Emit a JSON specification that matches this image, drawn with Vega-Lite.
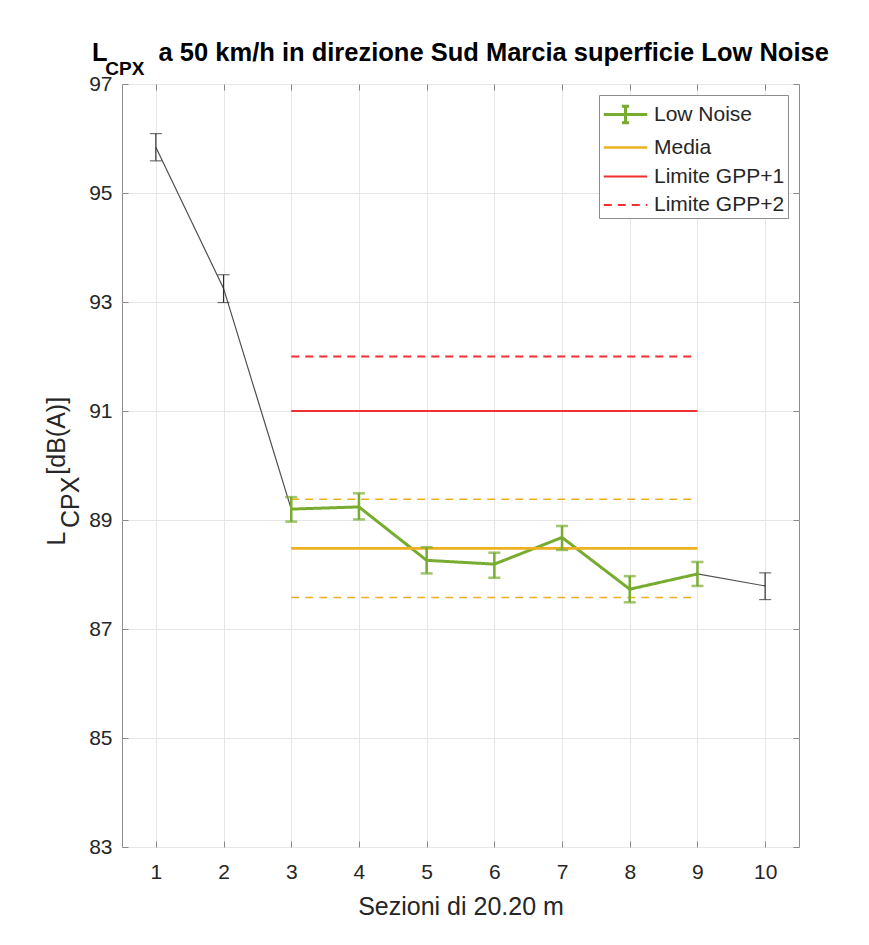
{
  "$schema": "https://vega.github.io/schema/vega-lite/v6.json",
  "autosize": {"type": "none"},
  "padding": {"left": 122, "top": 84, "right": 70, "bottom": 98},
  "width": 677,
  "height": 763,
  "background": "white",
  "config": {
    "font": "Liberation Sans",
    "view": {"stroke": "#8c8c8c", "strokeWidth": 1}
  },
  "title": {
    "text": "L\u2003\u2003a 50 km/h in direzione Sud Marcia superficie Low Noise",
    "subtitle": "\u200b\u2002\u2009CPX",
    "anchor": "start",
    "frame": "group",
    "dx": -30,
    "fontSize": 25.5,
    "fontWeight": "bold",
    "color": "#000000",
    "subtitleFontSize": 19,
    "subtitleFontWeight": "bold",
    "subtitleColor": "#000000",
    "subtitlePadding": -6,
    "offset": -6
  },
  "datasets": {
    "pts": [
      {"sez": 1, "val": 95.84, "lo": 95.59, "hi": 96.09, "grp": "ext"},
      {"sez": 2, "val": 93.25, "lo": 92.99, "hi": 93.50, "grp": "ext"},
      {"sez": 3, "val": 89.20, "lo": 88.97, "hi": 89.42, "grp": "Low Noise"},
      {"sez": 4, "val": 89.24, "lo": 89.01, "hi": 89.49, "grp": "Low Noise"},
      {"sez": 5, "val": 88.26, "lo": 88.02, "hi": 88.50, "grp": "Low Noise"},
      {"sez": 6, "val": 88.19, "lo": 87.94, "hi": 88.40, "grp": "Low Noise"},
      {"sez": 7, "val": 88.68, "lo": 88.45, "hi": 88.89, "grp": "Low Noise"},
      {"sez": 8, "val": 87.73, "lo": 87.49, "hi": 87.97, "grp": "Low Noise"},
      {"sez": 9, "val": 88.01, "lo": 87.79, "hi": 88.23, "grp": "Low Noise"},
      {"sez": 10, "val": 87.79, "lo": 87.54, "hi": 88.03, "grp": "ext"}
    ],
    "lines": [
      {"serie": "Low Noise", "sez": 3, "val": 89.20},
      {"serie": "Low Noise", "sez": 4, "val": 89.24},
      {"serie": "Low Noise", "sez": 5, "val": 88.26},
      {"serie": "Low Noise", "sez": 6, "val": 88.19},
      {"serie": "Low Noise", "sez": 7, "val": 88.68},
      {"serie": "Low Noise", "sez": 8, "val": 87.73},
      {"serie": "Low Noise", "sez": 9, "val": 88.01},
      {"serie": "Media", "sez": 3, "val": 88.48},
      {"serie": "Media", "sez": 9, "val": 88.48},
      {"serie": "Limite GPP+1", "sez": 3, "val": 91.0},
      {"serie": "Limite GPP+1", "sez": 9, "val": 91.0},
      {"serie": "Limite GPP+2", "sez": 3, "val": 92.0},
      {"serie": "Limite GPP+2", "sez": 9, "val": 92.0}
    ],
    "band": [
      {"k": "sup", "sez": 3, "val": 89.38},
      {"k": "sup", "sez": 9, "val": 89.38},
      {"k": "inf", "sez": 3, "val": 87.58},
      {"k": "inf", "sez": 9, "val": 87.58}
    ]
  },
  "resolve": {"axis": {"x": "independent", "y": "independent"}},
  "layer": [
    {
      "data": {"name": "pts"},
      "mark": {"type": "line", "color": "#505050", "strokeWidth": 1.2},
      "encoding": {
        "x": {
          "field": "sez", "type": "quantitative",
          "scale": {"domain": [0.5, 10.5], "nice": false, "zero": false},
          "axis": {
            "orient": "bottom", "values": [1, 2, 3, 4, 5, 6, 7, 8, 9, 10],
            "title": "Sezioni di 20.20 m", "titleFontSize": 25, "titleFontWeight": "normal",
            "titleColor": "#262626", "titlePadding": 12,
            "labelFontSize": 21, "labelColor": "#262626", "labelPadding": 20,
            "grid": true, "gridColor": "#e6e6e6", "gridWidth": 1,
            "domain": false, "tickSize": -6, "tickColor": "#888888"
          }
        },
        "y": {
          "field": "val", "type": "quantitative",
          "scale": {"domain": [83, 97], "nice": false, "zero": false},
          "axis": {
            "orient": "left", "values": [83, 85, 87, 89, 91, 93, 95, 97],
            "title": ["L\u2003\u2003 [dB(A)]", "\u200b\u2002\u2009CPX"],
            "titleFontSize": 25, "titleFontWeight": "normal", "titleColor": "#262626",
            "titleAngle": 270, "titleAlign": "left", "titleBaseline": "alphabetic",
            "titleX": -58, "titleY": 461, "titleLineHeight": 14,
            "labelFontSize": 21, "labelColor": "#262626", "labelPadding": 16,
            "grid": true, "gridColor": "#e6e6e6", "gridWidth": 1,
            "domain": false, "tickSize": -6, "tickColor": "#888888"
          }
        }
      }
    },
    {
      "data": {"name": "band"},
      "mark": {"type": "line", "color": "#EDB120", "strokeWidth": 1.5, "strokeDash": [8, 6]},
      "encoding": {
        "x": {
          "field": "sez", "type": "quantitative",
          "axis": {"orient": "top", "values": [1, 2, 3, 4, 5, 6, 7, 8, 9, 10], "labels": false, "title": null, "grid": false, "domain": false, "tickSize": -6, "tickColor": "#888888"}
        },
        "y": {
          "field": "val", "type": "quantitative",
          "axis": {"orient": "right", "values": [83, 85, 87, 89, 91, 93, 95, 97], "labels": false, "title": null, "grid": false, "domain": false, "tickSize": -6, "tickColor": "#888888"}
        },
        "detail": {"field": "k"}
      }
    },
    {
      "data": {"name": "lines"},
      "mark": {"type": "line"},
      "encoding": {
        "x": {"field": "sez", "type": "quantitative", "axis": null},
        "y": {"field": "val", "type": "quantitative", "axis": null},
        "color": {
          "field": "serie", "type": "nominal",
          "scale": {
            "domain": ["Low Noise", "Media", "Limite GPP+1", "Limite GPP+2"],
            "range": ["#77AC30", "#EDB120", "#F03030", "#F03030"]
          },
          "legend": {
            "title": null,
            "orient": "top-right",
            "offset": 11,
            "padding": 3,
            "strokeColor": "#8c8c8c",
            "fillColor": "white",
            "labelFontSize": 21,
            "labelColor": "#262626",
            "symbolType": "M-1.45,0H1.45",
            "symbolSize": 900,
            "symbolStrokeWidth": 2,
            "symbolOffset": 7,
            "rowPadding": 2,
            "labelOffset": 12,
            "encode": {
              "symbols": {
                "update": {
                  "shape": {"signal": "datum.value === 'Low Noise' ? 'M-1.45,0H1.45M0,-0.55V0.55M-0.24,-0.55H0.24M-0.24,0.55H0.24' : 'M-1.45,0H1.45'"}
                }
              }
            }
          }
        },
        "strokeDash": {
          "field": "serie", "type": "nominal",
          "scale": {
            "domain": ["Low Noise", "Media", "Limite GPP+1", "Limite GPP+2"],
            "range": [[1, 0], [1, 0], [1, 0], [8, 6]]
          },
          "legend": null
        },
        "strokeWidth": {
          "field": "serie", "type": "nominal",
          "scale": {
            "domain": ["Low Noise", "Media", "Limite GPP+1", "Limite GPP+2"],
            "range": [3, 1.8, 2, 1.8]
          },
          "legend": null
        }
      }
    },
    {
      "data": {"name": "pts"},
      "transform": [{"filter": "datum.grp === 'ext'"}],
      "mark": {"type": "errorbar", "ticks": {"size": 12, "thickness": 1.2, "color": "#303030"}, "thickness": 1.2, "color": "#303030"},
      "encoding": {
        "x": {"field": "sez", "type": "quantitative", "axis": null},
        "y": {"field": "lo", "type": "quantitative", "axis": null},
        "y2": {"field": "hi"}
      }
    },
    {
      "data": {"name": "pts"},
      "transform": [{"filter": "datum.grp === 'Low Noise'"}],
      "mark": {"type": "errorbar", "ticks": {"size": 12, "thickness": 2.5, "color": "#77AC30"}, "thickness": 2.5, "color": "#77AC30"},
      "encoding": {
        "x": {"field": "sez", "type": "quantitative", "axis": null},
        "y": {"field": "lo", "type": "quantitative", "axis": null},
        "y2": {"field": "hi"}
      }
    }
  ]
}
